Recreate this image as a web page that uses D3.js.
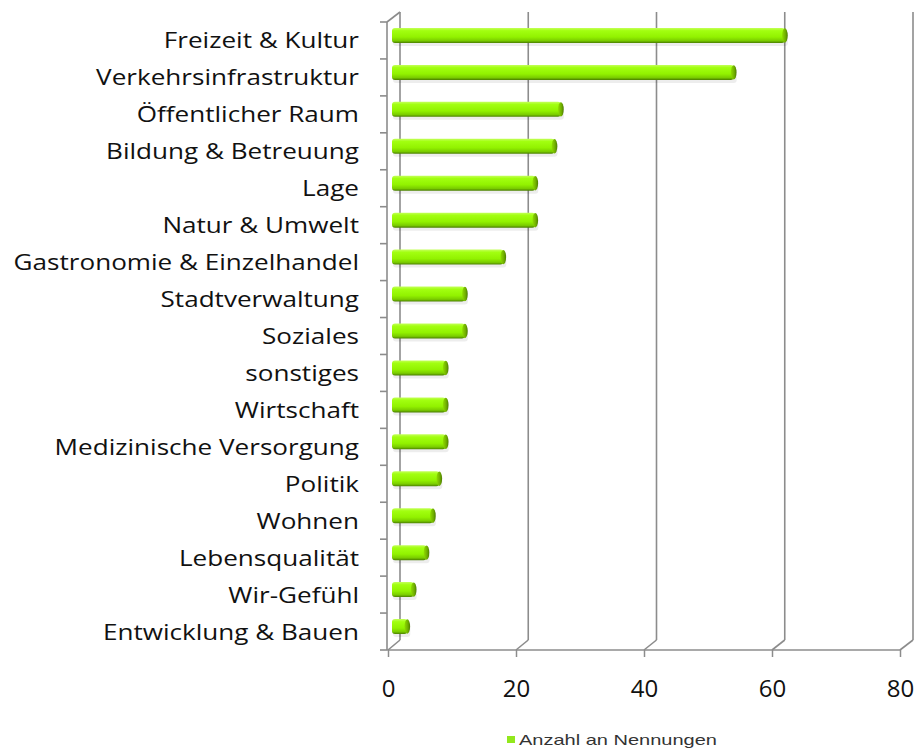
<!DOCTYPE html>
<html><head><meta charset="utf-8">
<script src="https://cdn.jsdelivr.net/npm/d3@7"></script>
<style>html,body{margin:0;padding:0;background:#fff;}svg{display:block;}</style>
</head><body>
<svg id="chart" width="915" height="751"></svg>
<script>
const categories = ["Freizeit & Kultur","Verkehrsinfrastruktur","Öffentlicher Raum","Bildung & Betreuung","Lage","Natur & Umwelt","Gastronomie & Einzelhandel","Stadtverwaltung","Soziales","sonstiges","Wirtschaft","Medizinische Versorgung","Politik","Wohnen","Lebensqualität","Wir-Gefühl","Entwicklung & Bauen"];
const values = [61,53,26,25,22,22,17,11,11,8,8,8,7,6,5,3,2];
const tickValues = [0,20,40,60,80];
const seriesName = "Anzahl an Nennungen";

const svg = d3.select("#chart");
const gridColor = "#8c8c8c";
const xFront = d3.scaleLinear().domain([0,80]).range([388, 900]);
const xBack = d3.scaleLinear().domain([0,80]).range([400, 913]);
const xBar = d3.scaleLinear().domain([0,80]).range([392, 904]);
const y = d3.scaleBand().domain(categories).range([22, 650]).padding(0);

// gradients
const defs = svg.append("defs");
const g1 = defs.append("linearGradient").attr("id","barGrad").attr("x1",0).attr("y1",0).attr("x2",0).attr("y2",1);
[[0,"#c4ff5a"],[0.18,"#a2ff10"],[0.6,"#92f200"],[0.85,"#7acc00"],[1,"#4a7f00"]].forEach(([o,c])=>g1.append("stop").attr("offset",o).attr("stop-color",c));
const g2 = defs.append("linearGradient").attr("id","capGrad").attr("x1",0).attr("y1",0).attr("x2",1).attr("y2",0);
[[0,"#8fdc00"],[0.6,"#6fae00"],[1,"#4d7d00"]].forEach(([o,c])=>g2.append("stop").attr("offset",o).attr("stop-color",c));

// back wall gridlines
const grid = svg.append("g").attr("stroke", gridColor).attr("stroke-width",1.6).attr("fill","none");
tickValues.forEach(v=>{
  grid.append("line").attr("x1",xBack(v)).attr("x2",xBack(v)).attr("y1",12).attr("y2",640);
  grid.append("line").attr("x1",xFront(v)).attr("y1",650).attr("x2",xBack(v)).attr("y2",640);
});
grid.append("line").attr("x1",387).attr("x2",387).attr("y1",22).attr("y2",650);
grid.append("line").attr("x1",387).attr("y1",22).attr("x2",400).attr("y2",12);
grid.append("line").attr("x1",387).attr("y1",650).attr("x2",xFront(80)).attr("y2",650);
const rowEdges = categories.map(c=>y(c)).concat([650]);
grid.selectAll(".rt").data(rowEdges).join("line")
  .attr("x1",380).attr("x2",387).attr("y1",d=>d).attr("y2",d=>d);

// bottom axis
const axisB = svg.append("g").attr("transform","translate(0,650)")
  .call(d3.axisBottom(xFront).tickValues(tickValues).tickSize(7).tickSizeOuter(0).tickPadding(23));
axisB.select(".domain").remove();
axisB.selectAll(".tick line").attr("stroke",gridColor).attr("stroke-width",1.5);
axisB.selectAll(".tick text").attr("font-family","'Open Sans', sans-serif").attr("font-size",24).attr("fill","#111");

// bars
const bh = 15;
const bars = svg.append("g");
categories.forEach((c,i)=>{
  const cy = y(c) + y.bandwidth()/2 - 5;
  const x0 = xBar(0), x1 = xBar(values[i]) + 2.5;
  bars.append("rect").attr("x",x0+1).attr("y",cy-bh/2+3).attr("width",x1-x0+2).attr("height",bh).attr("rx",3)
    .attr("fill","#000").attr("opacity",0.07);
  bars.append("rect").attr("x",x0).attr("y",cy-bh/2).attr("width",x1-x0).attr("height",bh).attr("rx",3)
    .attr("fill","url(#barGrad)");
  bars.append("ellipse").attr("cx",x1).attr("cy",cy).attr("rx",2.8).attr("ry",bh/2-0.3)
    .attr("fill","url(#capGrad)");
});

// category labels
const lab = svg.append("g").attr("font-family","'Open Sans', sans-serif").attr("font-size",22).attr("fill","#111");
const texts = lab.selectAll("text").data(categories).join("text")
  .attr("text-anchor","end").attr("x",0)
  .attr("y",d=>y(d)+y.bandwidth()/2+8)
  .text(d=>d);
const ref = texts.filter(d=>d==="Verkehrsinfrastruktur").node().getComputedTextLength();
const sx = 263/ref;
lab.attr("transform",`translate(359,0) scale(${sx},1)`);

// legend
const leg = svg.append("g");
leg.append("rect").attr("x",507).attr("y",736).attr("width",8).attr("height",7).attr("fill","#92e81c");
leg.append("text").attr("x",519).attr("y",745).attr("font-family","'Liberation Sans', Arial, sans-serif")
  .attr("font-size",15).attr("fill","#333").attr("textLength",198).attr("lengthAdjust","spacingAndGlyphs").text(seriesName);
</script>
</body></html>
